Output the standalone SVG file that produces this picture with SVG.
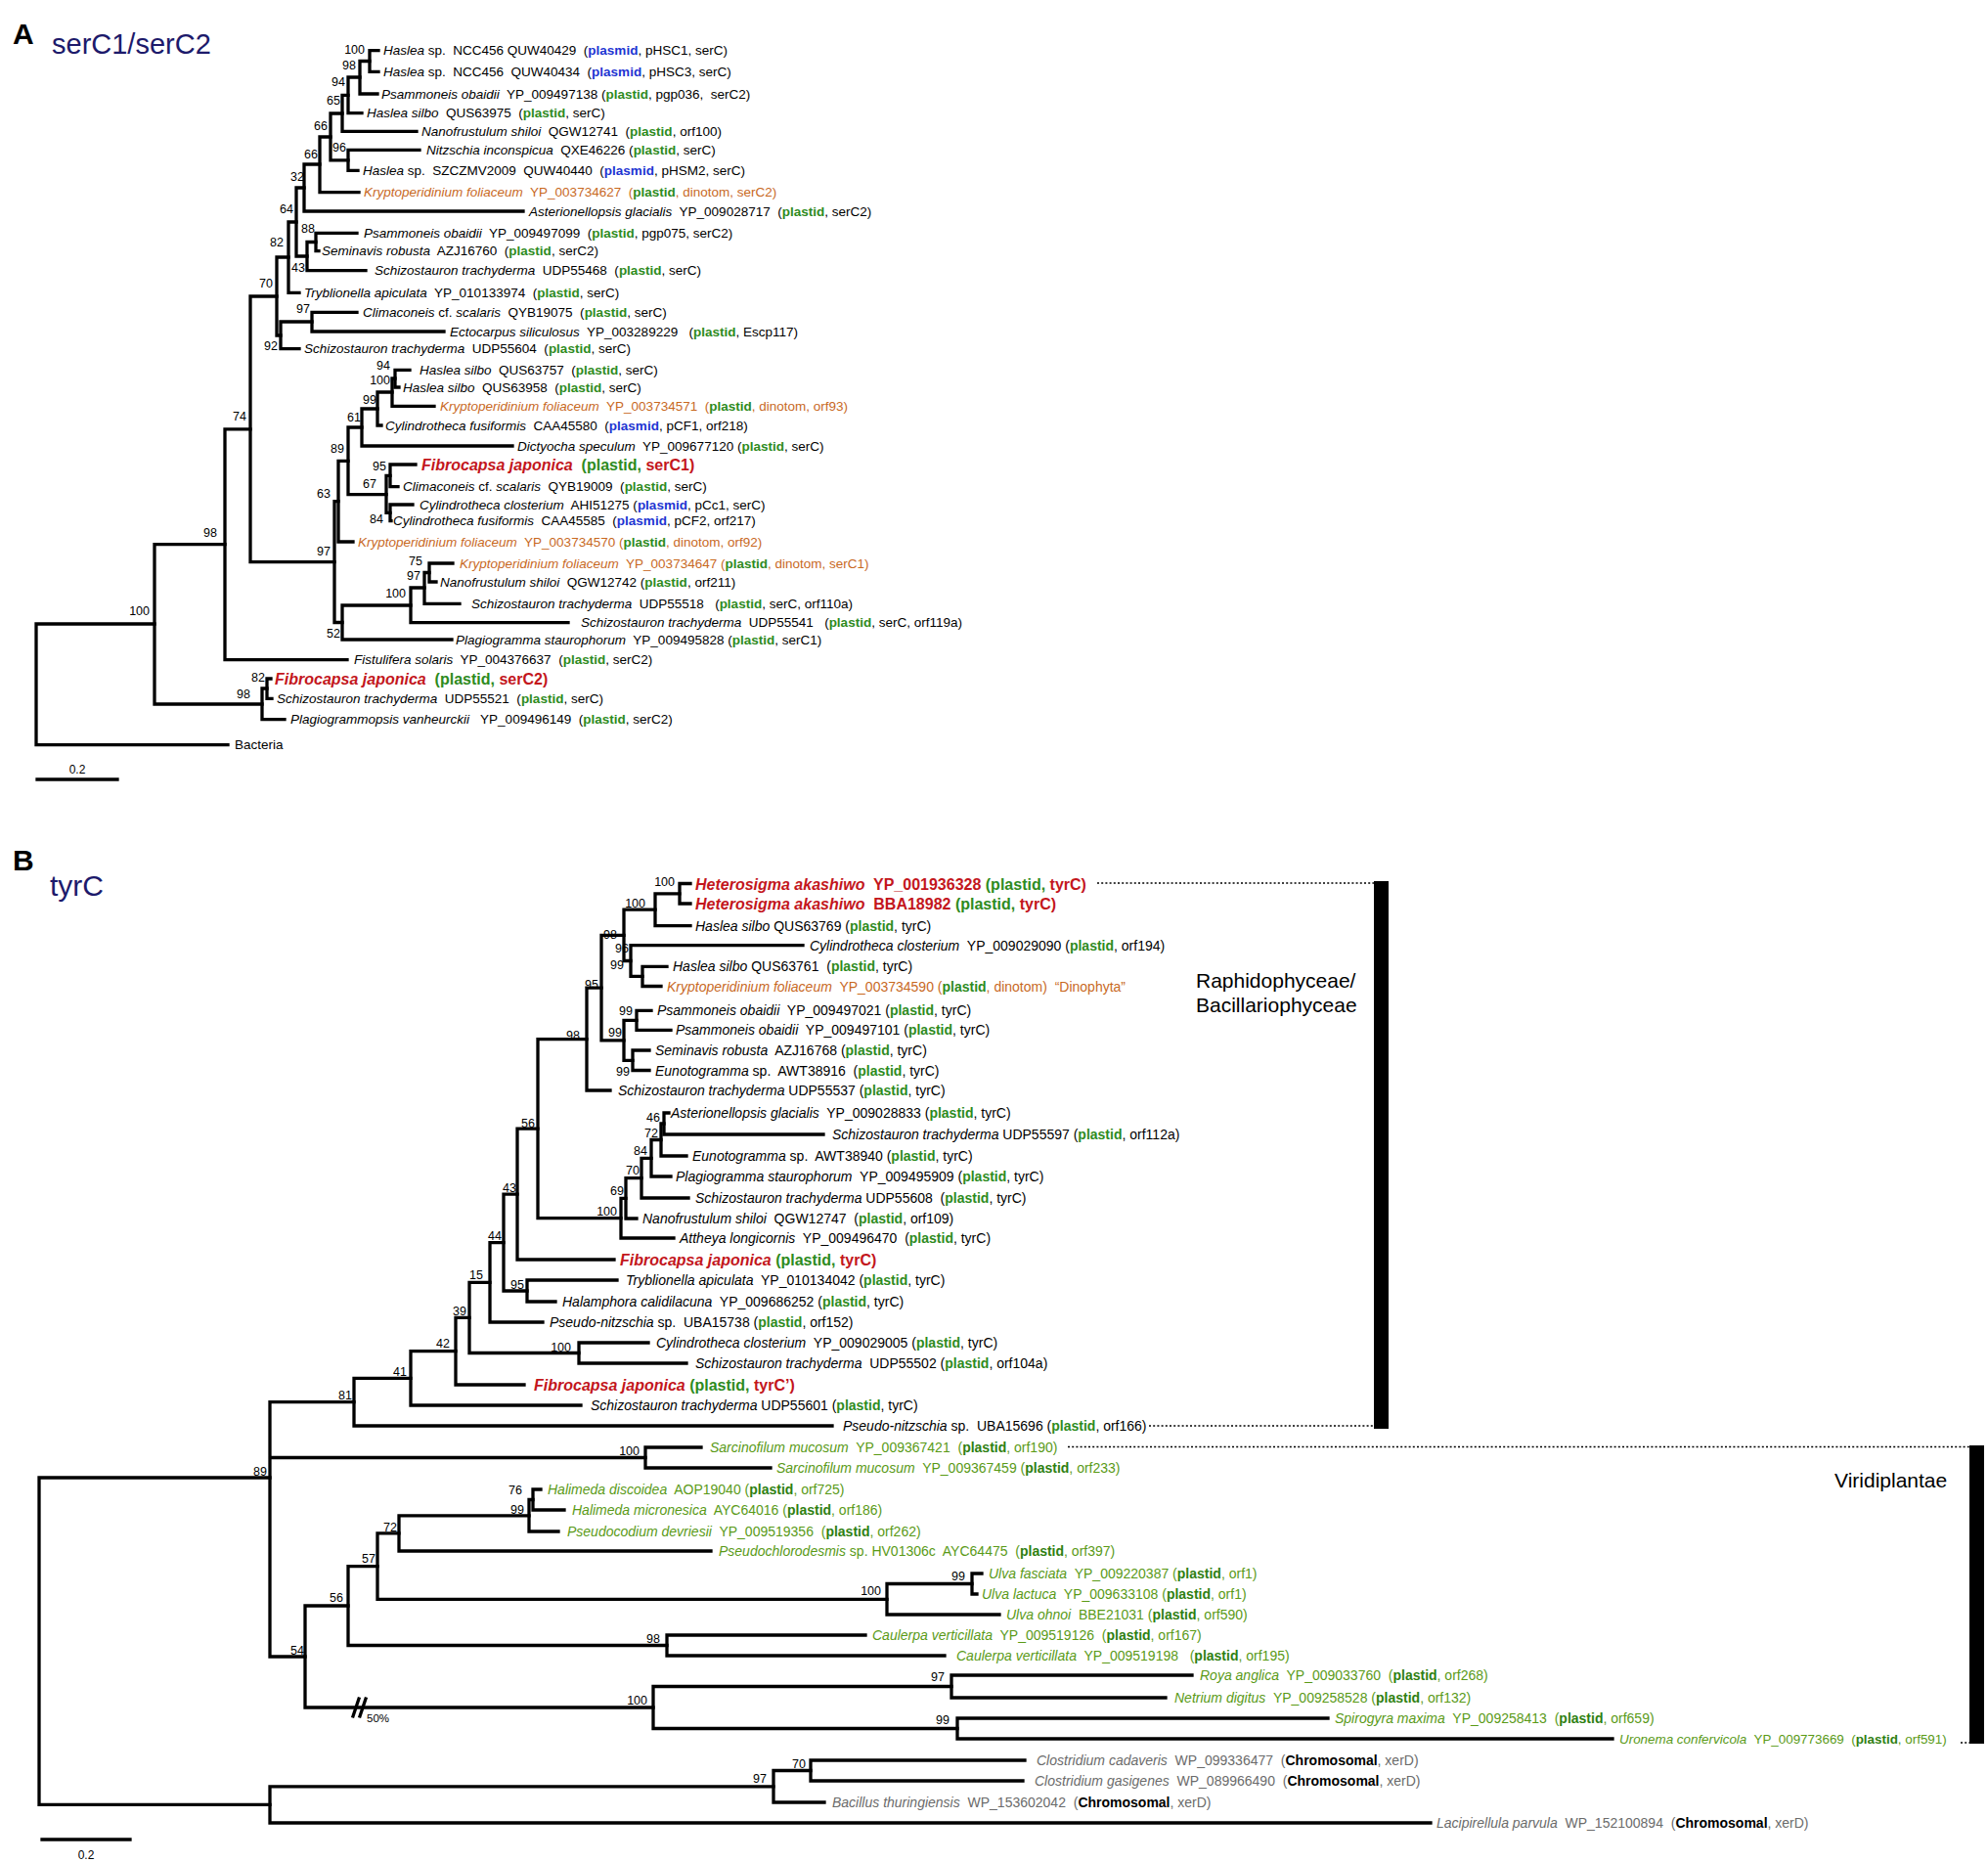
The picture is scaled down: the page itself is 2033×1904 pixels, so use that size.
<svg xmlns="http://www.w3.org/2000/svg" width="2033" height="1904" viewBox="0 0 2033 1904" xml:space="preserve">
<style>
text{font-family:"Liberation Sans",Arial,sans-serif;fill:#000;white-space:pre}
.a{font-size:13.5px}
.bt{font-size:14px}
.big{font-size:16px;font-weight:bold}
.s{font-size:12.5px;text-anchor:end}
.i{font-style:italic}
.g{fill:#2e8b1e;font-weight:bold}
.gn{fill:#2e8b1e}
.pb{fill:#1e35d2;font-weight:bold}
.o{fill:#c8691f}
.r{fill:#c3161c}
.v{fill:#5a9a17}
.vg{fill:#2f7f12;font-weight:bold}
.gy{fill:#6b6b6b}
.k{fill:#000;font-weight:bold}
.ttl{font-size:30px;font-weight:bold}
.sub{font-size:29px;fill:#1d1a6b}
.grp{font-size:21px}
.tr{stroke:#000;stroke-width:3.3;fill:none;stroke-linecap:square}
.dot{stroke:#000;stroke-width:1.6;stroke-dasharray:2 2.2;fill:none}
</style>
<rect width="2033" height="1904" fill="#fff"/>
<g id="titles">
<text class="ttl" x="13" y="45">A</text>
<text class="sub" x="53" y="55">serC1/serC2</text>
<text class="ttl" x="13" y="890">B</text>
<text class="sub" x="51" y="916" style="font-size:30px">tyrC</text>
</g>
<g id="connectors">
<path class="tr" d="M37 638V761.7M37 638H158M37 761.7H233"/>
<path class="tr" d="M158 556.7V720M158 556.7H230M158 720H268"/>
<path class="tr" d="M268 704V735.7M268 704H273M268 735.7H291"/>
<path class="tr" d="M273 694V714.3M273 694H277M273 714.3H278"/>
<path class="tr" d="M230 438.8V674.7M230 438.8H256M230 674.7H355"/>
<path class="tr" d="M256 303V574.6M256 303H283M256 574.6H342"/>
<path class="tr" d="M283 263V343M283 263H295M283 343H287"/>
<path class="tr" d="M295 227V299.3M295 227H303M295 299.3H306"/>
<path class="tr" d="M303 192V262M303 192H311M303 262H314"/>
<path class="tr" d="M314 247.5V276.7M314 247.5H323M314 276.7H374"/>
<path class="tr" d="M323 238.3V256.7M323 238.3H365M323 256.7H326"/>
<path class="tr" d="M311 168V216M311 168H327M311 216H535"/>
<path class="tr" d="M327 140V196.7M327 140H338M327 196.7H367"/>
<path class="tr" d="M338 116V163.8M338 116H350M338 163.8H356"/>
<path class="tr" d="M356 153.3V174.3M356 153.3H429M356 174.3H366"/>
<path class="tr" d="M350 97.4V134.3M350 97.4H356M350 134.3H426"/>
<path class="tr" d="M356 79V115.7M356 79H368M356 115.7H370"/>
<path class="tr" d="M368 62.5V96M368 62.5H378M368 96H386"/>
<path class="tr" d="M378 51.7V73.3M378 51.7H387M378 73.3H387"/>
<path class="tr" d="M287 329V356.7M287 329H319M287 356.7H306"/>
<path class="tr" d="M319 319.3V339M319 319.3H365M319 339H454"/>
<path class="tr" d="M342 512.7V636.5M342 512.7H346M342 636.5H350"/>
<path class="tr" d="M346 471.3V554M346 471.3H356M346 554H361"/>
<path class="tr" d="M356 437V505.6M356 437H370M356 505.6H395"/>
<path class="tr" d="M370 418V456M370 418H386M370 456H524"/>
<path class="tr" d="M386 401V435M386 401H401M386 435H390"/>
<path class="tr" d="M401 387V415.3M401 387H404M401 415.3H444"/>
<path class="tr" d="M404 378.3V396M404 378.3H419M404 396H408"/>
<path class="tr" d="M395 486.4V524.4M395 486.4H399M395 524.4H399"/>
<path class="tr" d="M399 475V497.7M399 475H425M399 497.7H407"/>
<path class="tr" d="M399 516V532.7M399 516H422M399 532.7H400"/>
<path class="tr" d="M350 619V654M350 619H420M350 654H462"/>
<path class="tr" d="M420 601V636.7M420 601H434M420 636.7H581"/>
<path class="tr" d="M434 585.5V617.3M434 585.5H439M434 617.3H470"/>
<path class="tr" d="M439 576V595M439 576H463M439 595H446"/>
<path class="tr" d="M38 797H120"/>

<path class="tr" d="M40 1511V1845.4M40 1511H276M40 1845.4H276"/>
<path class="tr" d="M276 1433.7V1694M276 1433.7H362M276 1490.5H660M276 1694H312"/>
<path class="tr" d="M276 1826.8V1864M276 1826.8H791M276 1864H1463"/>
<path class="tr" d="M791 1810.5V1843M791 1810.5H829M791 1843H843"/>
<path class="tr" d="M829 1800V1821M829 1800H1048M829 1821H1046"/>
<path class="tr" d="M312 1642V1746M312 1642H356M312 1746H668"/>
<path class="tr" d="M361 1755L367 1737M368 1755L374 1737"/>
<path class="tr" d="M668 1724.5V1767.5M668 1724.5H973M668 1767.5H979"/>
<path class="tr" d="M973 1713V1736M973 1713H1219M973 1736H1192"/>
<path class="tr" d="M979 1757V1778M979 1757H1358M979 1778H1649"/>
<path class="tr" d="M356 1601.6V1682.5M356 1601.6H386M356 1682.5H682"/>
<path class="tr" d="M682 1672V1693M682 1672H885M682 1693H966"/>
<path class="tr" d="M386 1567.9V1635.3M386 1567.9H408M386 1635.3H907"/>
<path class="tr" d="M907 1619.5V1651M907 1619.5H994M907 1651H1022"/>
<path class="tr" d="M994 1609V1630M994 1609H1004M994 1630H999"/>
<path class="tr" d="M408 1549.8V1586M408 1549.8H541M408 1586H727"/>
<path class="tr" d="M541 1533.5V1566M541 1533.5H545M541 1566H571"/>
<path class="tr" d="M545 1523V1544M545 1523H553M545 1544H577"/>
<path class="tr" d="M660 1480V1501M660 1480H717M660 1501H788"/>
<path class="tr" d="M362 1409.4V1458M362 1409.4H420M362 1458H851"/>
<path class="tr" d="M420 1381.7V1437M420 1381.7H466M420 1437H594"/>
<path class="tr" d="M466 1347.4V1416M466 1347.4H480M466 1416H536"/>
<path class="tr" d="M480 1311.3V1383.5M480 1311.3H501M480 1383.5H592"/>
<path class="tr" d="M592 1373V1394M592 1373H663M592 1394H702"/>
<path class="tr" d="M501 1270.6V1352M501 1270.6H515M501 1352H555"/>
<path class="tr" d="M515 1221.1V1320M515 1221.1H529M515 1320H539"/>
<path class="tr" d="M539 1309V1331M539 1309H631M539 1331H568"/>
<path class="tr" d="M529 1154.2V1288M529 1154.2H550M529 1288H628"/>
<path class="tr" d="M550 1062.6V1245.7M550 1062.6H600M550 1245.7H635"/>
<path class="tr" d="M635 1225.3V1266M635 1225.3H640M635 1266H689"/>
<path class="tr" d="M640 1204.6V1246M640 1204.6H656M640 1246H651"/>
<path class="tr" d="M656 1184.3V1225M656 1184.3H666M656 1225H704"/>
<path class="tr" d="M666 1165.5V1203M666 1165.5H676M666 1203H686"/>
<path class="tr" d="M676 1149V1182M676 1149H679M676 1182H702"/>
<path class="tr" d="M679 1138V1160M679 1138H684M679 1160H842"/>
<path class="tr" d="M600 1010.1V1115M600 1010.1H615M600 1115H624"/>
<path class="tr" d="M615 956.4V1063.8M615 956.4H638M615 1063.8H638"/>
<path class="tr" d="M638 1043.3V1084.3M638 1043.3H651M638 1084.3H647"/>
<path class="tr" d="M651 1033.3V1053.3M651 1033.3H666M651 1053.3H686"/>
<path class="tr" d="M647 1074V1094.5M647 1074H664M647 1094.5H664"/>
<path class="tr" d="M638 930.2V982.5M638 930.2H670M638 982.5H645"/>
<path class="tr" d="M645 966.7V998.4M645 966.7H821M645 998.4H657"/>
<path class="tr" d="M657 988.3V1008.5M657 988.3H682M657 1008.5H676"/>
<path class="tr" d="M670 913.8V946.7M670 913.8H695M670 946.7H706"/>
<path class="tr" d="M695 903.5V924M695 903.5H706M695 924H706"/>
<path class="tr" d="M43 1881H133"/>
<path class="dot" d="M1122 903H1405"/>
<path class="dot" d="M1175 1458H1405"/>
<path class="dot" d="M1092 1479.5H2014"/>
<path class="dot" d="M2005 1782H2014"/>
</g>
<g id="bars">
<rect x="1405" y="901" width="15" height="560" fill="#000"/>
<rect x="2014" y="1478" width="15" height="305" fill="#000"/>
<text class="grp" x="1223" y="1010">Raphidophyceae/</text>
<text class="grp" x="1223" y="1035">Bacillariophyceae</text>
<text class="grp" x="1876" y="1521">Viridiplantae</text>
</g>
<g id="scale">
<text x="79" y="791" style="font-size:12px;text-anchor:middle">0.2</text>
<text x="88" y="1901" style="font-size:12px;text-anchor:middle">0.2</text>
</g>
<g id="support-A">
<text class="s" x="373" y="54.5">100</text>
<text class="s" x="364" y="70.5">98</text>
<text class="s" x="353" y="87.5">94</text>
<text class="s" x="348" y="106.5">65</text>
<text class="s" x="335" y="132.5">66</text>
<text class="s" x="354" y="154.5">96</text>
<text class="s" x="325" y="161.5">66</text>
<text class="s" x="311" y="184.5">32</text>
<text class="s" x="300" y="217.5">64</text>
<text class="s" x="322" y="237.5">88</text>
<text class="s" x="290" y="251.5">82</text>
<text class="s" x="312" y="277.5">43</text>
<text class="s" x="279" y="293.5">70</text>
<text class="s" x="317" y="319.5">97</text>
<text class="s" x="284" y="357.5">92</text>
<text class="s" x="399" y="377.5">94</text>
<text class="s" x="399" y="392.5">100</text>
<text class="s" x="385" y="412.5">99</text>
<text class="s" x="252" y="429.5">74</text>
<text class="s" x="369" y="430.5">61</text>
<text class="s" x="352" y="462.5">89</text>
<text class="s" x="395" y="480.5">95</text>
<text class="s" x="385" y="498.5">67</text>
<text class="s" x="338" y="508.5">63</text>
<text class="s" x="392" y="534.5">84</text>
<text class="s" x="222" y="548.5">98</text>
<text class="s" x="338" y="567.5">97</text>
<text class="s" x="432" y="577.5">75</text>
<text class="s" x="430" y="592.5">97</text>
<text class="s" x="415" y="610.5">100</text>
<text class="s" x="153" y="628.5">100</text>
<text class="s" x="348" y="651.5">52</text>
<text class="s" x="271" y="696.5">82</text>
<text class="s" x="256" y="713.5">98</text>
</g>
<g id="support-B">
<text class="s" x="690" y="906">100</text>
<text class="s" x="660" y="927.5">100</text>
<text class="s" x="631" y="959.5">98</text>
<text class="s" x="643" y="973.5">96</text>
<text class="s" x="638" y="991">99</text>
<text class="s" x="612" y="1010.5">95</text>
<text class="s" x="647" y="1037.5">99</text>
<text class="s" x="636" y="1059.5">99</text>
<text class="s" x="593" y="1062.5">98</text>
<text class="s" x="644" y="1099.5">99</text>
<text class="s" x="547" y="1152.5">56</text>
<text class="s" x="675" y="1146.5">46</text>
<text class="s" x="673" y="1162.5">72</text>
<text class="s" x="662" y="1180.5">84</text>
<text class="s" x="654" y="1200.5">70</text>
<text class="s" x="638" y="1221.5">69</text>
<text class="s" x="528" y="1218.5">43</text>
<text class="s" x="631" y="1242.5">100</text>
<text class="s" x="513" y="1267.5">44</text>
<text class="s" x="494" y="1307.5">15</text>
<text class="s" x="536" y="1317.5">95</text>
<text class="s" x="477" y="1344.5">39</text>
<text class="s" x="460" y="1377.5">42</text>
<text class="s" x="584" y="1381.5">100</text>
<text class="s" x="416" y="1406.5">41</text>
<text class="s" x="360" y="1430.5">81</text>
<text class="s" x="654" y="1487.5">100</text>
<text class="s" x="273" y="1508.5">89</text>
<text class="s" x="534" y="1527.5">76</text>
<text class="s" x="536" y="1547.5">99</text>
<text class="s" x="406" y="1565.5">72</text>
<text class="s" x="384" y="1597.5">57</text>
<text class="s" x="987" y="1615.5">99</text>
<text class="s" x="901" y="1630.5">100</text>
<text class="s" x="351" y="1637.5">56</text>
<text class="s" x="675" y="1679.5">98</text>
<text class="s" x="311" y="1691.5">54</text>
<text class="s" x="966" y="1718.5">97</text>
<text class="s" x="662" y="1742.5">100</text>
<text class="s" x="971" y="1762.5">99</text>
<text x="375" y="1761" style="font-size:11.5px">50%</text>
<text class="s" x="824" y="1807.5">70</text>
<text class="s" x="784" y="1822.5">97</text>
</g>
<g id="leaves-A">
<g id="a01"><text class="a" x="392" y="56.2"><tspan class="i">Haslea</tspan> sp.  NCC456 QUW40429  (<tspan class="pb">plasmid</tspan>, pHSC1, serC)</text></g>
<g id="a02"><text class="a" x="392" y="77.8"><tspan class="i">Haslea</tspan> sp.  NCC456  QUW40434  (<tspan class="pb">plasmid</tspan>, pHSC3, serC)</text></g>
<g id="a03"><text class="a" x="390" y="100.5"><tspan class="i">Psammoneis obaidii</tspan>  YP_009497138 (<tspan class="g">plastid</tspan>, pgp036,  serC2)</text></g>
<g id="a04"><text class="a" x="375" y="120.2"><tspan class="i">Haslea silbo</tspan>  QUS63975  (<tspan class="g">plastid</tspan>, serC)</text></g>
<g id="a05"><text class="a" x="431" y="138.8"><tspan class="i">Nanofrustulum shiloi</tspan>  QGW12741  (<tspan class="g">plastid</tspan>, orf100)</text></g>
<g id="a06"><text class="a" x="436" y="157.8"><tspan class="i">Nitzschia inconspicua</tspan>  QXE46226 (<tspan class="g">plastid</tspan>, serC)</text></g>
<g id="a07"><text class="a" x="371" y="178.8"><tspan class="i">Haslea</tspan> sp.  SZCZMV2009  QUW40440  (<tspan class="pb">plasmid</tspan>, pHSM2, serC)</text></g>
<g id="a08"><text class="a o" x="372" y="201.2"><tspan class="i">Kryptoperidinium foliaceum</tspan>  YP_003734627  (<tspan class="g">plastid</tspan>, dinotom, serC2)</text></g>
<g id="a09"><text class="a" x="541" y="220.5"><tspan class="i">Asterionellopsis glacialis</tspan>  YP_009028717  (<tspan class="g">plastid</tspan>, serC2)</text></g>
<g id="a10"><text class="a" x="372" y="242.8"><tspan class="i">Psammoneis obaidii</tspan>  YP_009497099  (<tspan class="g">plastid</tspan>, pgp075, serC2)</text></g>
<g id="a11"><text class="a" x="329" y="261.2"><tspan class="i">Seminavis robusta</tspan>  AZJ16760  (<tspan class="g">plastid</tspan>, serC2)</text></g>
<g id="a12"><text class="a" x="383" y="281.2"><tspan class="i">Schizostauron trachyderma</tspan>  UDP55468  (<tspan class="g">plastid</tspan>, serC)</text></g>
<g id="a13"><text class="a" x="311" y="303.8"><tspan class="i">Tryblionella apiculata</tspan>  YP_010133974  (<tspan class="g">plastid</tspan>, serC)</text></g>
<g id="a14"><text class="a" x="371" y="323.8"><tspan class="i">Climaconeis</tspan> cf. <tspan class="i">scalaris</tspan>  QYB19075  (<tspan class="g">plastid</tspan>, serC)</text></g>
<g id="a15"><text class="a" x="460" y="343.5"><tspan class="i">Ectocarpus siliculosus</tspan>  YP_003289229   (<tspan class="g">plastid</tspan>, Escp117)</text></g>
<g id="a16"><text class="a" x="311" y="361.2"><tspan class="i">Schizostauron trachyderma</tspan>  UDP55604  (<tspan class="g">plastid</tspan>, serC)</text></g>
<g id="a17"><text class="a" x="429" y="382.8"><tspan class="i">Haslea silbo</tspan>  QUS63757  (<tspan class="g">plastid</tspan>, serC)</text></g>
<g id="a18"><text class="a" x="412" y="400.5"><tspan class="i">Haslea silbo</tspan>  QUS63958  (<tspan class="g">plastid</tspan>, serC)</text></g>
<g id="a19"><text class="a o" x="450" y="419.8"><tspan class="i">Kryptoperidinium foliaceum</tspan>  YP_003734571  (<tspan class="g">plastid</tspan>, dinotom, orf93)</text></g>
<g id="a20"><text class="a" x="394" y="439.5"><tspan class="i">Cylindrotheca fusiformis</tspan>  CAA45580  (<tspan class="pb">plasmid</tspan>, pCF1, orf218)</text></g>
<g id="a21"><text class="a" x="529" y="460.5"><tspan class="i">Dictyocha speculum</tspan>  YP_009677120 (<tspan class="g">plastid</tspan>, serC)</text></g>
<g id="a22"><text class="big r" x="431" y="481"><tspan class="i">Fibrocapsa japonica</tspan>  <tspan class="gn">(plastid,</tspan> serC1)</text></g>
<g id="a23"><text class="a" x="412" y="502.2"><tspan class="i">Climaconeis</tspan> cf. <tspan class="i">scalaris</tspan>  QYB19009  (<tspan class="g">plastid</tspan>, serC)</text></g>
<g id="a24"><text class="a" x="429" y="520.5"><tspan class="i">Cylindrotheca closterium</tspan>  AHI51275 (<tspan class="pb">plasmid</tspan>, pCc1, serC)</text></g>
<g id="a25"><text class="a" x="402" y="537.2"><tspan class="i">Cylindrotheca fusiformis</tspan>  CAA45585  (<tspan class="pb">plasmid</tspan>, pCF2, orf217)</text></g>
<g id="a26"><text class="a o" x="366" y="558.5"><tspan class="i">Kryptoperidinium foliaceum</tspan>  YP_003734570 (<tspan class="g">plastid</tspan>, dinotom, orf92)</text></g>
<g id="a27"><text class="a o" x="470" y="580.5"><tspan class="i">Kryptoperidinium foliaceum</tspan>  YP_003734647 (<tspan class="g">plastid</tspan>, dinotom, serC1)</text></g>
<g id="a28"><text class="a" x="450" y="599.5"><tspan class="i">Nanofrustulum shiloi</tspan>  QGW12742 (<tspan class="g">plastid</tspan>, orf211)</text></g>
<g id="a29"><text class="a" x="482" y="621.8"><tspan class="i">Schizostauron trachyderma</tspan>  UDP55518   (<tspan class="g">plastid</tspan>, serC, orf110a)</text></g>
<g id="a30"><text class="a" x="594" y="641.2"><tspan class="i">Schizostauron trachyderma</tspan>  UDP55541   (<tspan class="g">plastid</tspan>, serC, orf119a)</text></g>
<g id="a31"><text class="a" x="466" y="658.5"><tspan class="i">Plagiogramma staurophorum</tspan>  YP_009495828 (<tspan class="g">plastid</tspan>, serC1)</text></g>
<g id="a32"><text class="a" x="362" y="679.2"><tspan class="i">Fistulifera solaris</tspan>  YP_004376637  (<tspan class="g">plastid</tspan>, serC2)</text></g>
<g id="a33"><text class="big r" x="281" y="700"><tspan class="i">Fibrocapsa japonica</tspan>  <tspan class="gn">(plastid,</tspan> serC2)</text></g>
<g id="a34"><text class="a" x="283" y="718.8"><tspan class="i">Schizostauron trachyderma</tspan>  UDP55521  (<tspan class="g">plastid</tspan>, serC)</text></g>
<g id="a35"><text class="a" x="297" y="740.2"><tspan class="i">Plagiogrammopsis vanheurckii</tspan>   YP_009496149  (<tspan class="g">plastid</tspan>, serC2)</text></g>
<g id="a36"><text class="a" x="240" y="766.2">Bacteria</text></g>
</g>
<g id="leaves-B">
<g id="b01"><text class="big r" x="711" y="909.5"><tspan class="i">Heterosigma akashiwo</tspan>  YP_001936328 <tspan class="gn">(plastid,</tspan> tyrC)</text></g>
<g id="b02"><text class="big r" x="711" y="930"><tspan class="i">Heterosigma akashiwo</tspan>  BBA18982 <tspan class="gn">(plastid,</tspan> tyrC)</text></g>
<g id="b03"><text class="bt" x="711" y="951.7"><tspan class="i">Haslea silbo</tspan> QUS63769 (<tspan class="g">plastid</tspan>, tyrC)</text></g>
<g id="b04"><text class="bt" x="828" y="971.7"><tspan class="i">Cylindrotheca closterium</tspan>  YP_009029090 (<tspan class="g">plastid</tspan>, orf194)</text></g>
<g id="b05"><text class="bt" x="688" y="993.3"><tspan class="i">Haslea silbo</tspan> QUS63761  (<tspan class="g">plastid</tspan>, tyrC)</text></g>
<g id="b06"><text class="bt o" x="682" y="1013.5"><tspan class="i">Kryptoperidinium foliaceum</tspan>  YP_003734590 (<tspan class="g">plastid</tspan>, dinotom)  “Dinophyta”</text></g>
<g id="b07"><text class="bt" x="672" y="1038.3"><tspan class="i">Psammoneis obaidii</tspan>  YP_009497021 (<tspan class="g">plastid</tspan>, tyrC)</text></g>
<g id="b08"><text class="bt" x="691" y="1058.3"><tspan class="i">Psammoneis obaidii</tspan>  YP_009497101 (<tspan class="g">plastid</tspan>, tyrC)</text></g>
<g id="b09"><text class="bt" x="670" y="1079"><tspan class="i">Seminavis robusta</tspan>  AZJ16768 (<tspan class="g">plastid</tspan>, tyrC)</text></g>
<g id="b10"><text class="bt" x="670" y="1099.5"><tspan class="i">Eunotogramma</tspan> sp.  AWT38916  (<tspan class="g">plastid</tspan>, tyrC)</text></g>
<g id="b11"><text class="bt" x="632" y="1120"><tspan class="i">Schizostauron trachyderma</tspan> UDP55537 (<tspan class="g">plastid</tspan>, tyrC)</text></g>
<g id="b12"><text class="bt" x="686" y="1143"><tspan class="i">Asterionellopsis glacialis</tspan>  YP_009028833 (<tspan class="g">plastid</tspan>, tyrC)</text></g>
<g id="b13"><text class="bt" x="851" y="1165"><tspan class="i">Schizostauron trachyderma</tspan> UDP55597 (<tspan class="g">plastid</tspan>, orf112a)</text></g>
<g id="b14"><text class="bt" x="708" y="1187"><tspan class="i">Eunotogramma</tspan> sp.  AWT38940 (<tspan class="g">plastid</tspan>, tyrC)</text></g>
<g id="b15"><text class="bt" x="691" y="1208"><tspan class="i">Plagiogramma staurophorum</tspan>  YP_009495909 (<tspan class="g">plastid</tspan>, tyrC)</text></g>
<g id="b16"><text class="bt" x="711" y="1230"><tspan class="i">Schizostauron trachyderma</tspan> UDP55608  (<tspan class="g">plastid</tspan>, tyrC)</text></g>
<g id="b17"><text class="bt" x="657" y="1251"><tspan class="i">Nanofrustulum shiloi</tspan>  QGW12747  (<tspan class="g">plastid</tspan>, orf109)</text></g>
<g id="b18"><text class="bt" x="695" y="1271"><tspan class="i">Attheya longicornis</tspan>  YP_009496470  (<tspan class="g">plastid</tspan>, tyrC)</text></g>
<g id="b19"><text class="big r" x="634" y="1294"><tspan class="i">Fibrocapsa japonica</tspan> <tspan class="gn">(plastid,</tspan> tyrC)</text></g>
<g id="b20"><text class="bt" x="640" y="1314"><tspan class="i">Tryblionella apiculata</tspan>  YP_010134042 (<tspan class="g">plastid</tspan>, tyrC)</text></g>
<g id="b21"><text class="bt" x="575" y="1336"><tspan class="i">Halamphora calidilacuna</tspan>  YP_009686252 (<tspan class="g">plastid</tspan>, tyrC)</text></g>
<g id="b22"><text class="bt" x="562" y="1357"><tspan class="i">Pseudo-nitzschia</tspan> sp.  UBA15738 (<tspan class="g">plastid</tspan>, orf152)</text></g>
<g id="b23"><text class="bt" x="671" y="1378"><tspan class="i">Cylindrotheca closterium</tspan>  YP_009029005 (<tspan class="g">plastid</tspan>, tyrC)</text></g>
<g id="b24"><text class="bt" x="711" y="1399"><tspan class="i">Schizostauron trachyderma</tspan>  UDP55502 (<tspan class="g">plastid</tspan>, orf104a)</text></g>
<g id="b25"><text class="big r" x="546" y="1422"><tspan class="i">Fibrocapsa japonica</tspan> <tspan class="gn">(plastid,</tspan> tyrC’)</text></g>
<g id="b26"><text class="bt" x="604" y="1442"><tspan class="i">Schizostauron trachyderma</tspan> UDP55601 (<tspan class="g">plastid</tspan>, tyrC)</text></g>
<g id="b27"><text class="bt" x="862" y="1463"><tspan class="i">Pseudo-nitzschia</tspan> sp.  UBA15696 (<tspan class="g">plastid</tspan>, orf166)</text></g>
<g id="b28"><text class="bt v" x="726" y="1485"><tspan class="i">Sarcinofilum mucosum</tspan>  YP_009367421  (<tspan class="vg">plastid</tspan>, orf190)</text></g>
<g id="b29"><text class="bt v" x="794" y="1506"><tspan class="i">Sarcinofilum mucosum</tspan>  YP_009367459 (<tspan class="vg">plastid</tspan>, orf233)</text></g>
<g id="b30"><text class="bt v" x="560" y="1528"><tspan class="i">Halimeda discoidea</tspan>  AOP19040 (<tspan class="vg">plastid</tspan>, orf725)</text></g>
<g id="b31"><text class="bt v" x="585" y="1549"><tspan class="i">Halimeda micronesica</tspan>  AYC64016 (<tspan class="vg">plastid</tspan>, orf186)</text></g>
<g id="b32"><text class="bt v" x="580" y="1571"><tspan class="i">Pseudocodium devriesii</tspan>  YP_009519356  (<tspan class="vg">plastid</tspan>, orf262)</text></g>
<g id="b33"><text class="bt v" x="735" y="1591"><tspan class="i">Pseudochlorodesmis</tspan> sp. HV01306c  AYC64475  (<tspan class="vg">plastid</tspan>, orf397)</text></g>
<g id="b34"><text class="bt v" x="1011" y="1614"><tspan class="i">Ulva fasciata</tspan>  YP_009220387 (<tspan class="vg">plastid</tspan>, orf1)</text></g>
<g id="b35"><text class="bt v" x="1004" y="1635"><tspan class="i">Ulva lactuca</tspan>  YP_009633108 (<tspan class="vg">plastid</tspan>, orf1)</text></g>
<g id="b36"><text class="bt v" x="1029" y="1656"><tspan class="i">Ulva ohnoi</tspan>  BBE21031 (<tspan class="vg">plastid</tspan>, orf590)</text></g>
<g id="b37"><text class="bt v" x="892" y="1677"><tspan class="i">Caulerpa verticillata</tspan>  YP_009519126  (<tspan class="vg">plastid</tspan>, orf167)</text></g>
<g id="b38"><text class="bt v" x="978" y="1698"><tspan class="i">Caulerpa verticillata</tspan>  YP_009519198   (<tspan class="vg">plastid</tspan>, orf195)</text></g>
<g id="b39"><text class="bt v" x="1227" y="1718"><tspan class="i">Roya anglica</tspan>  YP_009033760  (<tspan class="vg">plastid</tspan>, orf268)</text></g>
<g id="b40"><text class="bt v" x="1201" y="1741"><tspan class="i">Netrium digitus</tspan>  YP_009258528 (<tspan class="vg">plastid</tspan>, orf132)</text></g>
<g id="b41"><text class="bt v" x="1365" y="1762"><tspan class="i">Spirogyra maxima</tspan>  YP_009258413  (<tspan class="vg">plastid</tspan>, orf659)</text></g>
<g id="b42"><text class="bt v" x="1656" y="1783" style="font-size:13.4px"><tspan class="i">Uronema confervicola</tspan>  YP_009773669  (<tspan class="vg">plastid</tspan>, orf591)</text></g>
<g id="b43"><text class="bt gy" x="1060" y="1805"><tspan class="i">Clostridium cadaveris</tspan>  WP_099336477  (<tspan class="k">Chromosomal</tspan>, xerD)</text></g>
<g id="b44"><text class="bt gy" x="1058" y="1826"><tspan class="i">Clostridium gasigenes</tspan>  WP_089966490  (<tspan class="k">Chromosomal</tspan>, xerD)</text></g>
<g id="b45"><text class="bt gy" x="851" y="1848"><tspan class="i">Bacillus thuringiensis</tspan>  WP_153602042  (<tspan class="k">Chromosomal</tspan>, xerD)</text></g>
<g id="b46"><text class="bt gy" x="1469" y="1869"><tspan class="i">Lacipirellula parvula</tspan>  WP_152100894  (<tspan class="k">Chromosomal</tspan>, xerD)</text></g>
</g>
</svg>
